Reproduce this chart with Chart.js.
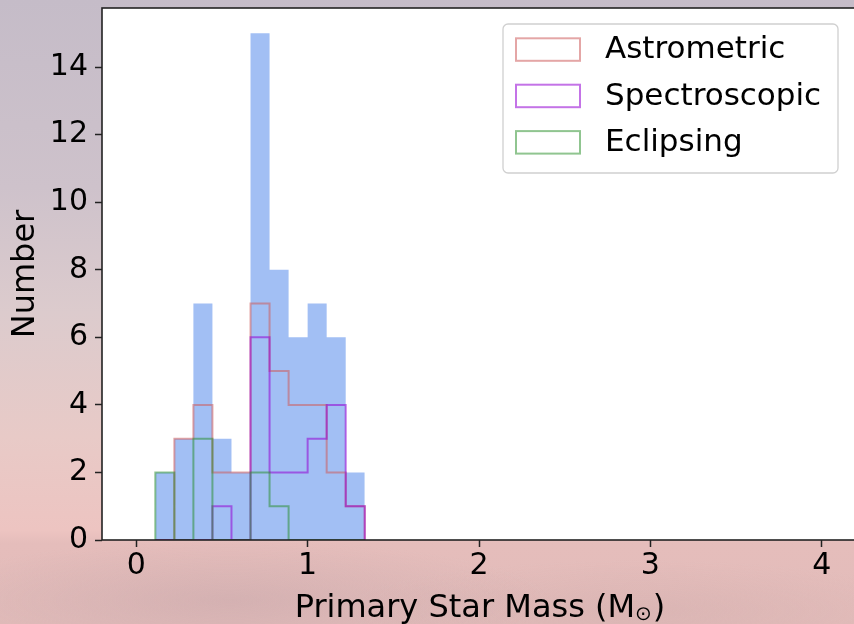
<!DOCTYPE html>
<html>
<head>
<meta charset="utf-8">
<script src="https://cdn.jsdelivr.net/npm/chart.js@4"></script>
<style>
  html, body { margin: 0; padding: 0; width: 854px; height: 624px; overflow: hidden; }
  body {
    background:
      radial-gradient(ellipse 320px 60px at 230px 600px, rgba(190,160,165,0.4), rgba(190,160,165,0) 100%),
      radial-gradient(ellipse 300px 50px at 640px 610px, rgba(200,165,165,0.3), rgba(200,165,165,0) 100%),
      linear-gradient(to bottom, #c5bcc8 0%, #cec2cb 30%, #dccbcd 50%, #e8cac7 70%, #edc4c1 85%, #e5bdbb 87%, #e2bcba 100%);
  }
  #wrap { position: absolute; left: 0; top: 0; width: 860px; height: 624px; }
</style>
</head>
<body>
<div id="wrap"><canvas id="c" width="860" height="624"></canvas></div>
<script>
// ---- data ----
const binEdges = [0.1111, 0.2222, 0.3333, 0.4444, 0.5556, 0.6667, 0.7778, 0.8889, 1.0, 1.1111, 1.2222, 1.3333];
const totalCounts = [2, 3, 7, 3, 2, 15, 8, 6, 7, 6, 2];
const astrometricCounts = [0, 3, 4, 2, 2, 7, 5, 4, 4, 2, 1];
const spectroscopicCounts = [0, 0, 0, 1, 0, 6, 2, 2, 3, 4, 1];
const eclipsingCounts = [2, 0, 3, 0, 0, 2, 1, 0, 0, 0, 0];
const seriesLabels = ['Astrometric', 'Spectroscopic', 'Eclipsing'];
const xTicks = [0, 1, 2, 3, 4];
const yTicks = [0, 2, 4, 6, 8, 10, 12, 14];
const xTitle = 'Primary Star Mass (M';
const xTitleSub = '\u2299';
const yTitle = 'Number';

// build a histogram outline (step path) from edges + counts
function outline(edges, counts) {
  const pts = [{x: edges[0], y: 0}];
  for (let i = 0; i < counts.length; i++) {
    pts.push({x: edges[i], y: counts[i]});
    pts.push({x: edges[i + 1], y: counts[i]});
  }
  pts.push({x: edges[edges.length - 1], y: 0});
  return pts;
}

const FONT = "'DejaVu Sans', 'Liberation Sans', sans-serif";
Chart.defaults.font.family = FONT;
Chart.defaults.color = '#000';

const colors = {
  total: 'rgba(100,149,237,0.6)',
  astro: 'rgba(205,92,92,0.55)',
  spec: 'rgba(148,0,211,0.55)',
  ecl: 'rgba(34,139,34,0.5)'
};

const bgPlugin = {
  id: 'plotBg',
  beforeDraw(chart) {
    const {ctx, chartArea: a} = chart;
    ctx.save();
    ctx.fillStyle = '#ffffff';
    ctx.fillRect(a.left, a.top, a.right - a.left, a.bottom - a.top);
    ctx.restore();
  },
  afterDatasetsDraw(chart) {
    const {ctx, chartArea: a} = chart;
    ctx.save();
    ctx.strokeStyle = '#222';
    ctx.lineWidth = 1.6;
    ctx.strokeRect(a.left, a.top, a.right - a.left, a.bottom - a.top);
    ctx.restore();
  }
};

const xTitlePlugin = {
  id: 'xTitle',
  afterDraw(chart) {
    const {ctx, chartArea: a} = chart;
    ctx.save();
    ctx.fillStyle = '#000';
    ctx.textBaseline = 'alphabetic';
    ctx.textAlign = 'left';
    const big = '32px ' + FONT, small = '20px ' + FONT;
    ctx.font = big;
    const w1 = ctx.measureText(xTitle).width;
    const w3 = ctx.measureText(')').width;
    ctx.font = small;
    const w2 = ctx.measureText(xTitleSub).width;
    const total = w1 + w2 + w3 + 1;
    const cx = (a.left + a.right) / 2 + 1;
    let x = cx - total / 2;
    const base = 617;
    ctx.font = big;
    ctx.fillText(xTitle, x, base);
    x += w1;
    ctx.font = small;
    ctx.fillText(xTitleSub, x, base + 3);
    x += w2 + 1;
    ctx.font = big;
    ctx.fillText(')', x, base);
    ctx.restore();
  }
};

const legendPlugin = {
  id: 'boxLegend',
  afterDraw(chart) {
    const {ctx, chartArea: a} = chart;
    const right = a.right - 18, top = a.top + 16;
    const w = 335, h = 149, left = right - w;
    ctx.save();
    ctx.beginPath();
    ctx.roundRect(left, top, w, h, 5);
    ctx.fillStyle = 'rgba(255,255,255,0.85)';
    ctx.fill();
    ctx.strokeStyle = '#d0d0d0';
    ctx.lineWidth = 1.3;
    ctx.stroke();
    const items = chart.data.datasets.filter(d => seriesLabels.includes(d.label));
    ctx.font = '31px ' + FONT;
    ctx.textBaseline = 'middle';
    ctx.textAlign = 'left';
    items.forEach((d, i) => {
      const hy = top + 14.3 + i * 46.4;
      ctx.strokeStyle = d.borderColor;
      ctx.lineWidth = 2;
      ctx.strokeRect(left + 13, hy, 64, 22.5);
      ctx.fillStyle = '#000';
      ctx.fillText(d.label, left + 102, hy + 12);
    });
    ctx.restore();
  }
};

function zeroPad(s) { s.paddingTop = 0; s.paddingBottom = 0; s.paddingLeft = 0; s.paddingRight = 0; }

new Chart(document.getElementById('c'), {
  type: 'line',
  data: {
    datasets: [
      {
        label: 'All',
        data: outline(binEdges, totalCounts),
        borderWidth: 0,
        borderColor: 'rgba(0,0,0,0)',
        backgroundColor: colors.total,
        fill: 'origin',
        pointRadius: 0,
        order: 10
      },
      {
        label: seriesLabels[0],
        data: outline(binEdges, astrometricCounts),
        borderColor: colors.astro,
        borderWidth: 2,
        fill: false,
        pointRadius: 0,
        order: 3
      },
      {
        label: seriesLabels[1],
        data: outline(binEdges, spectroscopicCounts),
        borderColor: colors.spec,
        borderWidth: 2,
        fill: false,
        pointRadius: 0,
        order: 2
      },
      {
        label: seriesLabels[2],
        data: outline(binEdges, eclipsingCounts),
        borderColor: colors.ecl,
        borderWidth: 2,
        fill: false,
        pointRadius: 0,
        order: 1
      }
    ]
  },
  options: {
    responsive: false,
    animation: false,
    layout: { padding: { top: 8, right: 4, left: 0, bottom: 0 } },
    plugins: {
      legend: { display: false },
      tooltip: { enabled: false }
    },
    elements: { line: { tension: 0, borderJoinStyle: 'miter', borderCapStyle: 'butt' } },
    scales: {
      x: {
        type: 'linear',
        min: -0.2,
        max: 4.2,
        afterBuildTicks: s => { s.ticks = xTicks.map(v => ({value: v})); },
        afterFit: s => { s.height = 84; zeroPad(s); },
        grid: { drawOnChartArea: false, drawTicks: true, tickLength: 7, tickColor: '#222', tickWidth: 1.5 },
        border: { display: false },
        ticks: { font: { size: 30 }, color: '#000', padding: 1, maxRotation: 0, callback: v => String(v) }
      },
      y: {
        type: 'linear',
        min: 0,
        max: 15.75,
        afterBuildTicks: s => { s.ticks = yTicks.map(v => ({value: v})); },
        afterFit: s => { s.width = 102; zeroPad(s); },
        grid: { drawOnChartArea: false, drawTicks: true, tickLength: 7, tickColor: '#222', tickWidth: 1.5 },
        border: { display: false },
        ticks: { font: { size: 30 }, color: '#000', padding: 7, callback: v => String(v) },
        title: { display: true, text: yTitle, font: { size: 32 }, color: '#000', padding: { top: 6, bottom: 0 } }
      }
    }
  },
  plugins: [bgPlugin, xTitlePlugin, legendPlugin]
});
</script>
</body>
</html>
